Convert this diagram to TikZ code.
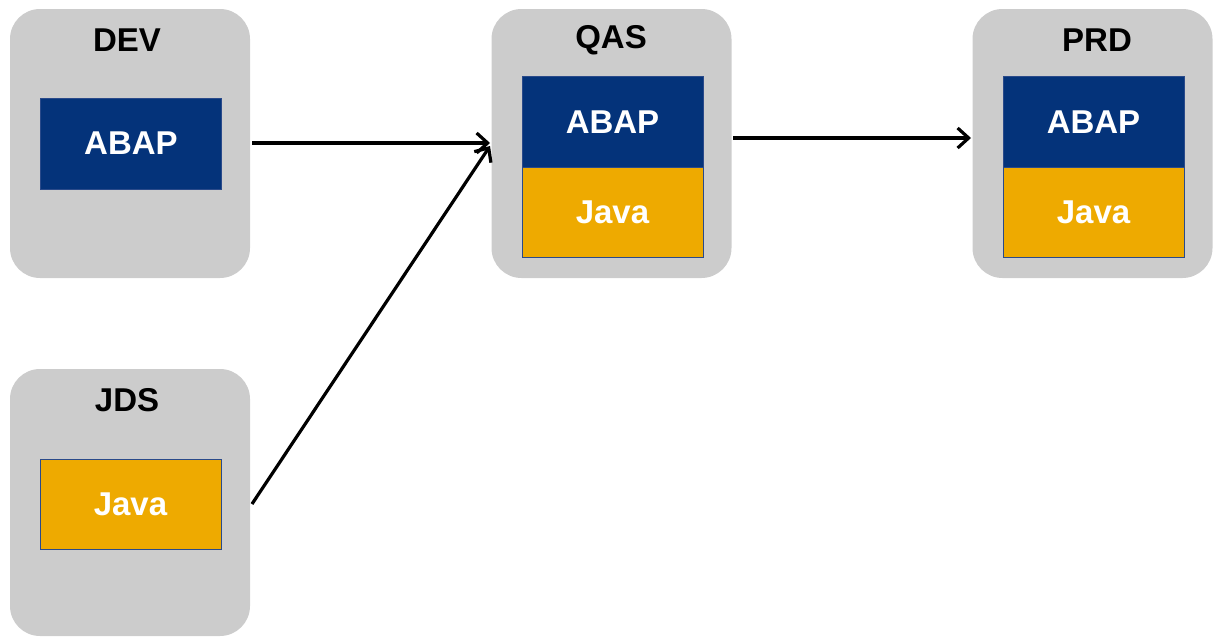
\documentclass[tikz,border=0pt]{standalone}
\usepackage{fontspec}
\setmainfont{Liberation Sans}
\usetikzlibrary{arrows.meta}
\definecolor{envgray}{HTML}{CCCCCC}
\definecolor{abapblue}{HTML}{04337A}
\definecolor{javagold}{HTML}{EEAA00}
\definecolor{edgeblue}{HTML}{2A4A8A}
\begin{document}
\begin{tikzpicture}[x=1pt,y=-1pt,
  envbox/.style={fill=envgray, draw=none, rounded corners=30pt, minimum width=240pt, inner sep=0pt},
  envlabel/.style={font=\fontsize{33}{33}\selectfont\bfseries, text=black, inner sep=0pt},
  abapbox/.style={fill=abapblue, draw=edgeblue, line width=0.8pt, minimum width=181pt, minimum height=91pt, inner sep=0pt, font=\fontsize{33}{33}\selectfont\bfseries, text=white},
  javabox/.style={fill=javagold, draw=edgeblue, line width=0.8pt, minimum width=181pt, minimum height=90pt, inner sep=0pt, font=\fontsize{33}{33}\selectfont\bfseries, text=white},
  flow/.style={line width=3.2pt, -{Straight Barb[length=11pt,width=20pt,line width=3.2pt]}}
]
\useasboundingbox (0,0) rectangle (1218,637);
% environment boxes
\node[envbox, minimum height=269pt] (dev) at (130,143.5) {};
\node[envbox, minimum height=267pt] (jds) at (130,502.5) {};
\node[envbox, minimum height=269pt] (qas) at (611.5,143.5) {};
\node[envbox, minimum height=269pt] (prd) at (1092.5,143.5) {};
% labels
\node[envlabel] (devl) at (127,40) {DEV};
\node[envlabel] (jdsl) at (127,400) {JDS};
\node[envlabel] (qasl) at (611,40) {QAS};
\node[envlabel] (prdl) at (1097,40) {PRD};
% inner stacks
\node[abapbox] (devabap) at (131,143.5) {ABAP};
\node[javabox] (jdsjava) at (130.5,504.5) {Java};
\node[abapbox] (qasabap) at (612.5,122) {ABAP};
\node[javabox] (qasjava) at (612.5,212) {Java};
\node[abapbox] (prdabap) at (1093.5,122) {ABAP};
\node[javabox] (prdjava) at (1093.5,212) {Java};
% connectors
\coordinate (a1s) at (252,143);
\coordinate (a1e) at (490,143);
\coordinate (a2s) at (252,504);
\coordinate (a2e) at (490,146);
\coordinate (a3s) at (733,138);
\coordinate (a3e) at (971,138);
\draw[flow] (a1s) -- (a1e);
\draw[flow] (a2s) -- (a2e);
\draw[flow] (a3s) -- (a3e);
\end{tikzpicture}
\end{document}
